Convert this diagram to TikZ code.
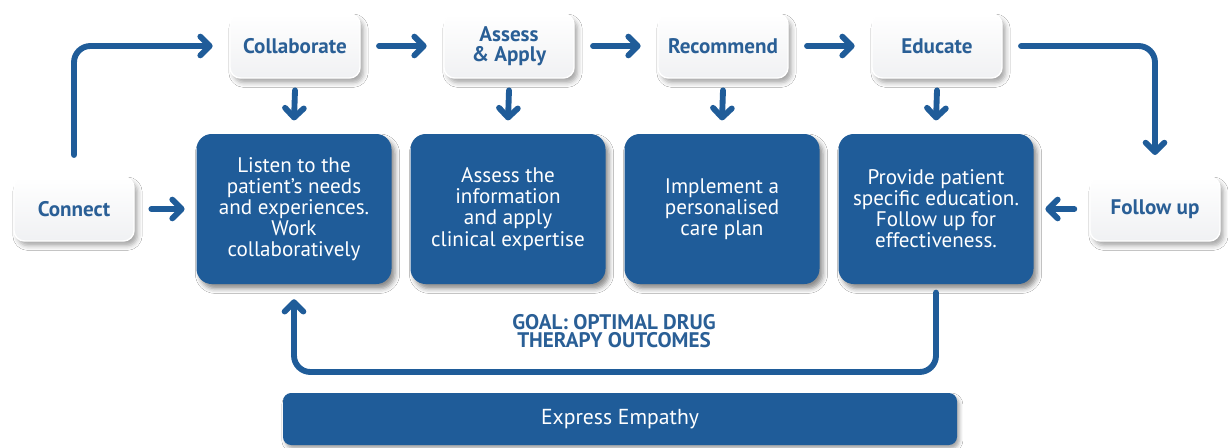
\documentclass[tikz,border=0pt]{standalone}
\usepackage{fontspec}
\setmainfont{PT Sans}
\usetikzlibrary{arrows.meta,shadows.blur,positioning}
\definecolor{cblue}{HTML}{1F5C99}
\definecolor{ctext}{HTML}{2A5F96}
\definecolor{cpale}{HTML}{F0F1F3}
\begin{document}
\begin{tikzpicture}[x=0.03cm,y=-0.03cm,
  topbox/.style={draw=white,line width=1.2pt,rounded corners=9pt,top color=white,bottom color=cpale,
    minimum width=130*0.03cm,minimum height=64*0.03cm,text=ctext,font=\fontsize{18}{17}\selectfont\bfseries,
    align=center,blur shadow={shadow xshift=3pt,shadow yshift=-4pt,shadow blur radius=4pt,shadow opacity=35}},
  bluebox/.style={fill=cblue,rounded corners=13pt,minimum width=195*0.03cm,minimum height=150*0.03cm,
    text=white,font=\fontsize{18}{18}\selectfont,align=center,
    blur shadow={shadow xshift=3pt,shadow yshift=-4pt,shadow blur radius=4pt,shadow opacity=45}},
  flow/.style={draw=cblue,line width=5pt,line cap=round,rounded corners=14pt,
    -{Straight Barb[length=8pt,width=16pt,line cap=round,line join=round]}}]
\useasboundingbox[fill=white] (0,0) rectangle (1228,448);

% top row of steps
\node[topbox] (col) at (295,46) {Collaborate};
\node[topbox] (ass) at (509,46) {Assess\\\& Apply};
\node[topbox] (rec) at (723,46) {Recommend};
\node[topbox] (edu) at (937,46) {Educate};

% side steps
\node[topbox,minimum width=120*0.03cm] (con) at (74,209) {Connect};
\node[topbox,minimum width=130*0.03cm] (fol) at (1155,209) {Follow up};

% main action boxes
\node[bluebox] (lis) at (294,209) {Listen to the\\patient's needs\\and experiences.\\Work\\collaboratively};
\node[bluebox] (inf) at (508,209) {Assess the\\information\\and apply\\clinical expertise};
\node[bluebox] (imp) at (722,209) {Implement a\\personalised\\care plan};
\node[bluebox] (pro) at (936,209) {Provide patient\\specific education.\\Follow up for\\effectiveness.};

% empathy bar
\node[fill=cblue,rounded corners=7pt,minimum width=674*0.03cm,minimum height=52*0.03cm,text=white,
  font=\fontsize{18.5}{18}\selectfont,
  blur shadow={shadow xshift=2pt,shadow yshift=-3pt,shadow blur radius=3pt,shadow opacity=35}]
  (emp) at (620,419) {Express Empathy};

% goal label
\node[text=ctext,font=\fontsize{18}{16}\selectfont\bfseries,align=center] (goal) at (614,331)
  {GOAL: OPTIMAL DRUG\\THERAPY OUTCOMES};

% connectors along the top
\coordinate (c1) at (74,155);
\draw[flow] (c1) |- ([xshift=-0.5cm]col.west);
\draw[flow] ([xshift=0.55cm]col.east) -- ([xshift=-0.5cm]ass.west);
\draw[flow] ([xshift=0.55cm]ass.east) -- ([xshift=-0.5cm]rec.west);
\draw[flow] ([xshift=0.55cm]rec.east) -- ([xshift=-0.5cm]edu.west);
\coordinate (c2) at (1155,155);
\draw[flow] ([xshift=0.55cm]edu.east) -| (c2);

% connectors down into the boxes
\foreach \a/\b in {col/lis,ass/inf,rec/imp,edu/pro}
  \draw[flow] ([yshift=-0.35cm]\a.south) -- ([yshift=0.4cm]\b.north);

% side connectors
\draw[flow] ([xshift=0.5cm]con.east) -- ([xshift=-0.35cm]lis.west);
\draw[flow] ([xshift=-0.45cm]fol.west) -- ([xshift=0.35cm]pro.east);

% feedback loop
\coordinate (b1) at (936,372);
\draw[flow] ([yshift=-0.25cm]pro.south) -- (b1) -| ([yshift=-0.45cm]lis.south);
\end{tikzpicture}
\end{document}
